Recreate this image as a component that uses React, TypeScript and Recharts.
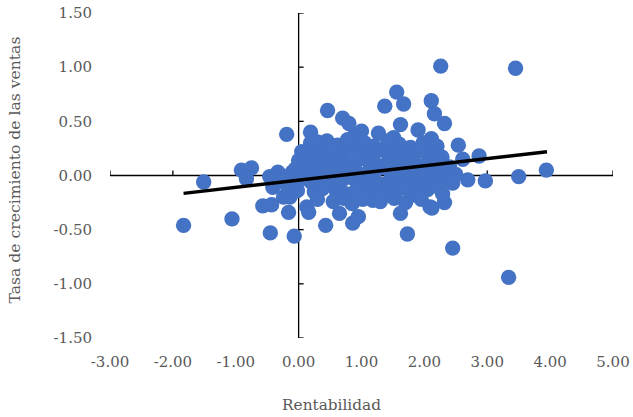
import React from "react";
import { ScatterChart, Scatter, XAxis, YAxis } from "recharts";

// Rentabilidad (x) vs Tasa de crecimiento de las ventas (y)
const observations: [number, number][] = [
  [-1.83, -0.46], [-1.51, -0.06], [-1.06, -0.4], [-0.91, 0.05], [-0.75, 0.07], [-0.83, -0.03],
  [-0.57, -0.28], [-0.45, -0.53], [-0.43, -0.27], [-0.46, -0.01], [-0.41, -0.11], [-0.33, 0.03],
  [-0.24, -0.2], [-0.19, 0.38], [-0.16, -0.34], [-0.14, -0.2], [-0.1, 0.03], [-0.07, -0.56],
  [-0.02, -0.14], [-0.28, 0.0], [-0.2, -0.08],
  [0.13, -0.29], [0.16, -0.34], [0.19, 0.4], [0.19, 0.3], [0.17, 0.12], [0.46, 0.6], [0.7, 0.53],
  [0.8, 0.48], [1.37, 0.64], [1.56, 0.77], [1.67, 0.66], [1.62, 0.47], [0.45, 0.32], [1.0, 0.41],
  [0.89, 0.37], [1.27, 0.39], [1.51, 0.35], [1.9, 0.42], [2.11, 0.69], [2.16, 0.57], [2.32, 0.48],
  [2.26, 1.01], [3.45, 0.99], [2.54, 0.28], [2.87, 0.18], [2.11, 0.34], [2.69, -0.04], [2.97, -0.05],
  [3.5, -0.01], [3.94, 0.05], [2.61, 0.15], [2.45, -0.07], [2.12, -0.3], [2.32, -0.25], [2.29, -0.17],
  [2.45, -0.67], [3.34, -0.94], [0.43, -0.46], [0.65, -0.35], [0.86, -0.44], [0.95, -0.38],
  [1.18, -0.23], [1.62, -0.35], [1.73, -0.54], [1.84, -0.18], [2.09, -0.29], [1.45, -0.16],
  [0.3, 0.31], [0.62, 0.28], [0.78, 0.33], [1.05, 0.3], [1.2, 0.27], [1.42, 0.32], [1.6, 0.29],
  [1.78, 0.26], [1.98, 0.3], [2.2, 0.27],
  [0.05, 0.22], [0.22, 0.24], [0.4, 0.21], [0.55, 0.23], [0.72, 0.2], [0.88, 0.24], [1.03, 0.21],
  [1.18, 0.19], [1.35, 0.23], [1.5, 0.2], [1.66, 0.22], [1.82, 0.18], [1.97, 0.23], [2.12, 0.2],
  [2.28, 0.17],
  [0.0, 0.14], [0.15, 0.11], [0.32, 0.15], [0.48, 0.12], [0.64, 0.14], [0.8, 0.1], [0.95, 0.15],
  [1.12, 0.12], [1.28, 0.09], [1.44, 0.14], [1.58, 0.11], [1.75, 0.13], [1.9, 0.09], [2.05, 0.12],
  [2.22, 0.1], [2.4, 0.08],
  [-0.05, 0.06], [0.1, 0.03], [0.27, 0.05], [0.42, 0.02], [0.58, 0.06], [0.74, 0.03], [0.9, 0.05],
  [1.05, 0.01], [1.22, 0.04], [1.38, 0.07], [1.53, 0.02], [1.7, 0.05], [1.85, 0.01], [2.0, 0.04],
  [2.16, 0.02], [2.33, 0.05], [2.5, 0.01],
  [0.02, -0.04], [0.2, -0.06], [0.35, -0.03], [0.52, -0.07], [0.68, -0.05], [0.84, -0.02],
  [0.98, -0.06], [1.15, -0.04], [1.31, -0.08], [1.47, -0.03], [1.62, -0.06], [1.78, -0.04],
  [1.94, -0.07], [2.1, -0.03], [2.26, -0.06], [2.4, -0.02],
  [0.25, -0.15], [0.38, -0.12], [0.6, -0.14], [0.76, -0.17], [0.92, -0.13], [1.08, -0.15],
  [1.25, -0.12], [1.4, -0.11], [1.56, -0.14], [1.72, -0.12], [1.9, -0.15], [2.05, -0.13], [2.2, -0.1],
  [0.3, -0.22], [0.55, -0.24], [0.72, -0.21], [0.85, -0.26], [1.02, -0.22], [1.3, -0.24],
  [1.52, -0.21], [1.7, -0.25], [1.95, -0.22],
];

// Linear trend line endpoints
const trendX = [-1.83, 3.95];
const trendY = [-0.165, 0.22];

const xTicks = [-3, -2, -1, 0, 1, 2, 3, 4, 5];
const yTicks = [-1.5, -1, -0.5, 0, 0.5, 1, 1.5];

const points = observations.map(([x, y]) => ({ x, y }));
const trend = trendX.map((x, i) => ({ x, y: trendY[i] }));
const xAxisLine = [{ x: xTicks[0], y: 0 }, { x: xTicks[xTicks.length - 1], y: 0 }];
const yAxisLine = [{ x: 0, y: yTicks[0] }, { x: 0, y: yTicks[yTicks.length - 1] }];
const xTickMarks = xTicks.map((x) => ({ x, y: 0 }));
const yTickMarks = yTicks.map((y) => ({ x: 0, y }));

const FONT = "'DejaVu Serif', serif";
const GREY = "#595959";
const BLUE = "#4472C4";

const Empty = () => <g />;

export default function App() {
  return (
    <div style={{ position: "absolute", left: 0, top: 0, width: 633, height: 417, background: "#fff" }}>
      <ScatterChart width={633} height={417} margin={{ top: 13, right: 20, bottom: 49, left: 30 }}>
        <XAxis
          type="number"
          dataKey="x"
          domain={[-3, 5]}
          ticks={xTicks}
          allowDataOverflow
          tickFormatter={(v: number) => v.toFixed(2)}
          axisLine={false}
          tickLine={false}
          tickSize={0}
          tickMargin={18}
          height={30}
          tick={{ fill: GREY, fontSize: 15, fontFamily: FONT }}
        />
        <YAxis
          type="number"
          dataKey="y"
          domain={[-1.5, 1.5]}
          ticks={yTicks}
          allowDataOverflow
          tickFormatter={(v: number) => v.toFixed(2)}
          axisLine={false}
          tickLine={false}
          tickSize={0}
          tickMargin={18}
          width={80}
          tick={{ fill: GREY, fontSize: 15, fontFamily: FONT }}
        />
        <Scatter data={xAxisLine} isAnimationActive={false} line={{ stroke: "#000", strokeWidth: 1.3 }} shape={Empty} />
        <Scatter data={yAxisLine} isAnimationActive={false} line={{ stroke: "#000", strokeWidth: 1.3 }} shape={Empty} />
        <Scatter
          data={xTickMarks}
          isAnimationActive={false}
          shape={(p: any) => <line x1={p.cx} y1={p.cy} x2={p.cx} y2={p.cy - 5} stroke="#000" strokeWidth={1.3} />}
        />
        <Scatter
          data={yTickMarks}
          isAnimationActive={false}
          shape={(p: any) => <line x1={p.cx} y1={p.cy} x2={p.cx + 5} y2={p.cy} stroke="#000" strokeWidth={1.3} />}
        />
        <Scatter
          data={points}
          isAnimationActive={false}
          shape={(p: any) => <circle cx={p.cx} cy={p.cy} r={7.7} fill={BLUE} />}
        />
        <Scatter data={trend} isAnimationActive={false} line={{ stroke: "#000", strokeWidth: 3.5 }} shape={Empty} />
      </ScatterChart>
      <div
        style={{
          position: "absolute",
          left: 0,
          width: 663,
          top: 395,
          textAlign: "center",
          fontFamily: FONT,
          fontSize: 15.3,
          color: GREY,
          lineHeight: "20px",
          whiteSpace: "nowrap",
        }}
      >
        Rentabilidad
      </div>
      <div
        style={{
          position: "absolute",
          left: 15,
          top: 170,
          transform: "translate(-50%, -50%) rotate(-90deg)",
          fontFamily: FONT,
          fontSize: 15.6,
          color: GREY,
          lineHeight: "20px",
          whiteSpace: "nowrap",
        }}
      >
        Tasa de crecimiento de las ventas
      </div>
    </div>
  );
}
